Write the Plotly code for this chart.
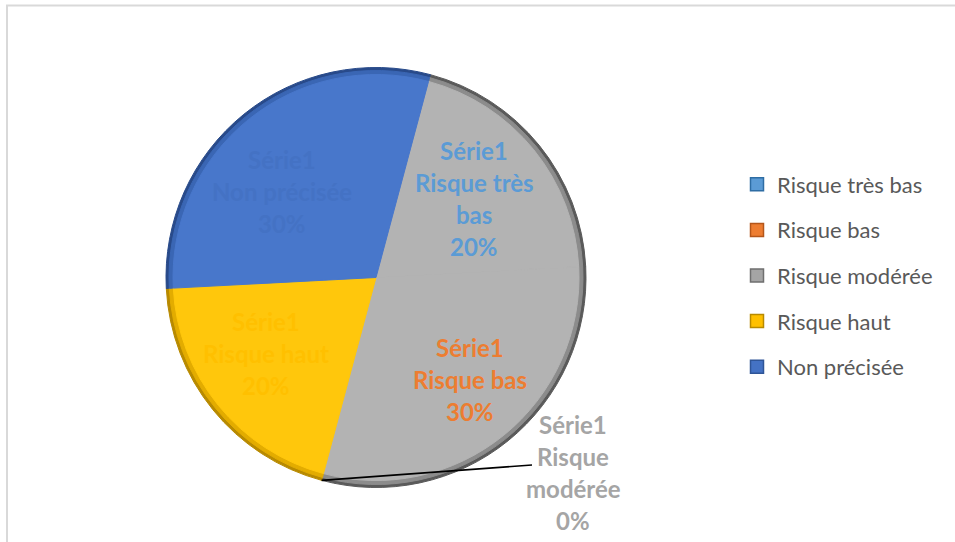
import math
import plotly.graph_objects as go

# ---- data -------------------------------------------------------------
categories = ["Risque très bas", "Risque bas", "Risque modérée", "Risque haut", "Non précisée"]
values = [20, 30, 0, 20, 30]
series_name = "Série1"
# data-label text, wrapped as drawn inside the slices
label_lines = [["Risque très", "bas"], ["Risque bas"], ["Risque", "modérée"], ["Risque haut"], ["Non précisée"]]

# ---- styling ----------------------------------------------------------
legend_colors = ["#5B9BD5", "#ED7D31", "#A5A5A5", "#FFC000", "#4472C4"]
legend_edges = ["#2E6DA4", "#B4561A", "#6F6F6F", "#B88A00", "#2F5597"]
slice_colors = ["#B3B3B3", "#B3B3B3", "#B3B3B3", "#FFC70C", "#4877CB"]
mid_rim_colors = ["#8C8C8C", "#8C8C8C", "#8C8C8C", "#E3AC00", "#3A66B4"]
rim_colors = ["#5A5A5A", "#5A5A5A", "#5A5A5A", "#B88A00", "#284A8A"]
label_colors = ["#5B9BD5", "#ED7D31", "#A5A5A5", "#FFC000", "#4472C4"]
# small pixel nudges of the inside labels (dx, dy)
label_nudge = [(-3, 3), (12, 1), (0, 0), (-9, -6), (-12, 15)]

W, H = 955, 542
CX, CY, R = 376, 277.5, 210      # pie centre and radius in pixels
ROTATION = 15                    # start angle of the first slice (clockwise from 12 o'clock)
LABEL_FRAC = 0.62                # radial position of inside labels
LINE_STEP = 32                   # pixel spacing of data-label lines
FONT = "Lato, 'Open Sans', sans-serif"


def px(x, y):
    return x / W, 1 - y / H


def domain(r):
    return dict(x=[(CX - r) / W, (CX + r) / W], y=[(H - CY - r) / H, (H - CY + r) / H])


fig = go.Figure()

# stacked layers give the rim a darker, bevelled edge; each slice is
# stroked in its own colour so neighbouring grey slices show no seam
for r, cols in ((R, rim_colors), (R - 3, mid_rim_colors), (R - 7, slice_colors)):
    fig.add_trace(go.Pie(
        labels=categories, values=values, sort=False, direction="clockwise",
        rotation=ROTATION, domain=domain(r), textinfo="none",
        marker=dict(colors=cols, line=dict(color=cols, width=1)),
        showlegend=False, hoverinfo="label+percent", name=series_name,
    ))

# legend entries
for cat, c, e in zip(categories, legend_colors, legend_edges):
    fig.add_trace(go.Scatter(
        x=[None], y=[None], mode="markers", name=cat, legendgroup=cat,
        marker=dict(symbol="square", size=13, color=c, line=dict(color=e, width=1.5)),
    ))

# data labels placed along each slice's mid angle
total = sum(values)
start = ROTATION
annotations = []
shapes = []
for cat, v, lines, col, (dx, dy) in zip(categories, values, label_lines, label_colors, label_nudge):
    sweep = 360 * v / total
    mid = math.radians(start + sweep / 2)
    pct = f"{round(100 * v / total)}%"
    text_lines = [series_name] + lines + [pct]
    if v > 0:
        lx = CX + LABEL_FRAC * R * math.sin(mid) + dx
        ly = CY - LABEL_FRAC * R * math.cos(mid) + dy
    else:
        # zero-size slice: label outside with a leader line from the rim
        a = math.radians(start)
        rx, ry = CX + R * math.sin(a), CY - R * math.cos(a)
        lx, ly = 573, 472
        ex, ey = 532, 465
        x0, y0 = px(rx, ry)
        x1, y1 = px(ex, ey)
        shapes.append(dict(type="line", xref="paper", yref="paper", x0=x0, y0=y0, x1=x1, y1=y1,
                           line=dict(color="#000000", width=1.6)))
    ax, ay = px(lx, ly)
    n = len(text_lines)
    for i, t in enumerate(text_lines):
        annotations.append(dict(
            x=ax, y=ay, xref="paper", yref="paper", text=f"<b>{t}</b>", showarrow=False,
            xanchor="center", yanchor="middle", yshift=-(i - (n - 1) / 2) * LINE_STEP,
            font=dict(family=FONT, size=24, color=col),
        ))
    start += sweep

# chart-area frame (top and left edges)
shapes.append(dict(type="line", xref="paper", yref="paper", x0=px(6, 0)[0], x1=1, y0=px(0, 5.5)[1],
                   y1=px(0, 5.5)[1], line=dict(color="#D9D9D9", width=2)))
shapes.append(dict(type="line", xref="paper", yref="paper", x0=px(7, 0)[0], x1=px(7, 0)[0],
                   y0=0, y1=px(0, 5)[1], line=dict(color="#D9D9D9", width=2)))

fig.update_layout(
    width=W, height=H, margin=dict(l=0, r=0, t=0, b=0),
    paper_bgcolor="white", plot_bgcolor="white",
    xaxis=dict(visible=False), yaxis=dict(visible=False),
    annotations=annotations, shapes=shapes,
    legend=dict(x=(757 - 20) / W, xanchor="left", y=1 - 275.5 / H, yanchor="middle",
                font=dict(family=FONT, size=22, color="#595959"),
                traceorder="grouped", tracegroupgap=14, bgcolor="rgba(0,0,0,0)"),
)

fig.write_html("out.html")
